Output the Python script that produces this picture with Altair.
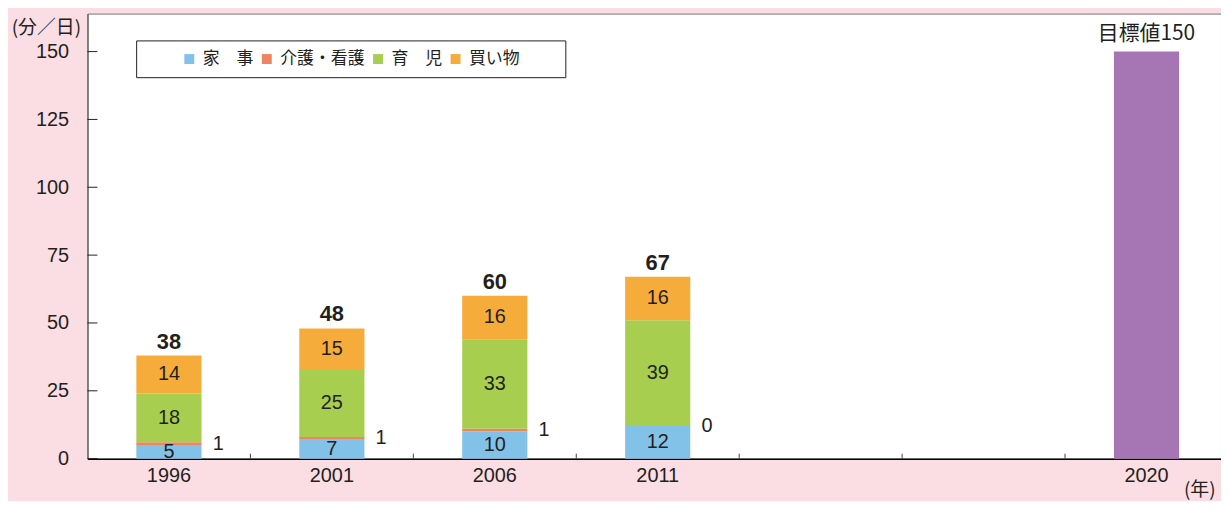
import altair as alt
import pandas as pd

# ---- data ----
years = ["1996", "2001", "2006", "2011", " ", "  ", "2020"]
stack_years = ["1996", "2001", "2006", "2011"]
categories = ["家　事", "介護・看護", "育　児", "買い物"]
housework = [5, 7, 10, 12]
care = [1, 1, 1, 0]
childcare = [18, 25, 33, 39]
shopping = [14, 15, 16, 16]
totals = [38, 48, 60, 67]
target_year = "2020"
target_value = 150
target_label = "目標値150"
y_ticks = [0, 25, 50, 75, 100, 125, 150]
colors = ["#82C2E8", "#EE8460", "#A8CE50", "#F5AC3A"]
target_color = "#A576B3"

NUM_FONT = "'Liberation Sans', 'Noto Sans CJK JP', sans-serif"
JP_FONT = "'Noto Sans CJK JP', 'Liberation Sans', sans-serif"
TEXT = "#231f20"

rows = []
series = [housework, care, childcare, shopping]
for yi, yr in enumerate(stack_years):
    for ci, cat in enumerate(categories):
        rows.append({"year": yr, "cat": cat, "value": series[ci][yi], "order": ci})
df = pd.DataFrame(rows)
df_tot = pd.DataFrame({"year": stack_years, "total": totals})
df_target = pd.DataFrame({"year": [target_year], "value": [target_value], "label": [target_label]})
df_yt = pd.DataFrame({"tick": y_ticks})
df_xt = pd.DataFrame({"year": years[1:]})

# plot area is cut off on the right in the reference
W, H = 1141, 448
STEP = 164.0
PAD_IN = 0.6
n = len(years)
outer_total = W / STEP - (n - PAD_IN)
PAD_OUT = outer_total / 2
ALIGN = 0.3 / outer_total
xscale = alt.Scale(domain=years, paddingInner=PAD_IN, paddingOuter=PAD_OUT, align=ALIGN)
yscale = alt.Scale(domain=[0, 164], nice=False, zero=True)

x_axis = alt.Axis(
    title="(年)", labelFontSize=20, labelFont=NUM_FONT, labelColor=TEXT, labelPadding=7,
    ticks=False, domainColor="#000000", domainWidth=1.5, labelAngle=0,
    titleFont=JP_FONT, titleFontSize=19, titleFontWeight="normal", titleColor=TEXT,
    titleAlign="right", titleX=W - 6, titleY=31, titleBaseline="middle",
)
y_axis = alt.Axis(
    title="(分／日)", values=y_ticks, labelFontSize=20, labelFont=NUM_FONT, labelColor=TEXT,
    labelPadding=19, ticks=False, domainColor="#6d6d6d", domainWidth=1.5, grid=False,
    titleFont=JP_FONT, titleFontSize=19, titleFontWeight="normal", titleColor=TEXT,
    titleAngle=0, titleAlign="right", titleX=-7, titleY=14, titleBaseline="middle",
)


def xenc(**kw):
    return alt.X("year:N", scale=xscale, sort=years, axis=x_axis, **kw)


def yenc(field):
    return alt.Y(field, scale=yscale, axis=y_axis)


base = alt.Chart(df).transform_stack(
    stack="value", groupby=["year"], sort=[alt.SortField("order")], as_=["y0", "y1"]
).transform_calculate(mid="(datum.y0 + datum.y1) / 2")

bars = base.mark_bar().encode(
    x=xenc(),
    y=yenc("y1:Q"),
    y2="y0:Q",
    color=alt.Color(
        "cat:N",
        scale=alt.Scale(domain=categories, range=colors),
        legend=alt.Legend(
            title="家事", titleColor="white", titleOrient="left", titleFontSize=15,
            titlePadding=4, titleFont=JP_FONT,
            orient="none", legendX=49, legendY=27, direction="horizontal",
            symbolType="square", symbolSize=100, symbolStrokeWidth=0,
            labelFont=JP_FONT, labelFontSize=17, labelColor=TEXT, labelOffset=5,
            columnPadding=5, padding=10, strokeColor=TEXT, fillColor="white",
            labelExpr="datum.label == '買い物' ? '買い物\u2800\u2800\u2800' : datum.label",
        ),
    ),
)

seg_labels = base.transform_filter(
    alt.datum.cat != "介護・看護"
).mark_text(font=NUM_FONT, fontSize=20, color=TEXT, baseline="middle").encode(
    x=xenc(), y=yenc("mid:Q"), text="value:Q"
)

care_labels = base.transform_filter(
    alt.datum.cat == "介護・看護"
).mark_text(font=NUM_FONT, fontSize=20, color=TEXT, baseline="middle", align="left", dx=44).encode(
    x=xenc(), y=yenc("mid:Q"), text="value:Q"
)

total_labels = alt.Chart(df_tot).mark_text(
    font=NUM_FONT, fontSize=22, fontWeight="bold", color=TEXT, baseline="middle", dy=-14
).encode(x=xenc(), y=yenc("total:Q"), text="total:Q")

target_bar = alt.Chart(df_target).mark_bar(color=target_color).encode(
    x=xenc(), y=yenc("value:Q")
)
target_text = alt.Chart(df_target).mark_text(
    font=JP_FONT, fontSize=21, color=TEXT, baseline="middle", dy=-18
).encode(x=xenc(), y=yenc("value:Q"), text="label:N")

y_tick_rules = alt.Chart(df_yt).mark_rule(color=TEXT, strokeWidth=1).encode(
    y=yenc("tick:Q"), x=alt.value(0), x2=alt.value(10)
)
x_tick_rules = alt.Chart(df_xt).mark_rule(
    color="#444444", strokeWidth=1, xOffset=-STEP * PAD_IN / 2
).encode(
    x=xenc(bandPosition=0),
    y=alt.value(H), y2=alt.value(H - 5),
)

chart = alt.layer(
    bars, seg_labels, care_labels, total_labels, target_bar, target_text,
    y_tick_rules, x_tick_rules,
).properties(
    width=W, height=H,
    padding={"left": 80, "top": 4, "right": 0, "bottom": 41},
    autosize=alt.AutoSizeParams(type="none"),
    background="#FBDEE3",
).configure_view(
    fill="white", stroke="#777777", strokeWidth=1
)

chart.save("out.html", embed_options={"renderer": "svg", "actions": False})
